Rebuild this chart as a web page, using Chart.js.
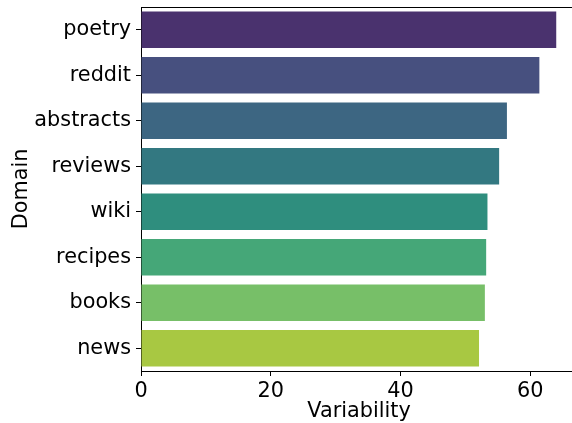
<!DOCTYPE html>
<html>
<head>
<meta charset="utf-8">
<script src="https://cdn.jsdelivr.net/npm/chart.js@4/dist/chart.umd.min.js"></script>
<style>
  html, body { margin: 0; padding: 0; background: #fff; overflow: hidden; }
  #wrap { width: 572px; height: 423px; overflow: hidden; }
</style>
</head>
<body>
<div id="wrap"><canvas id="main" width="577" height="423"></canvas></div>
<script>
const domains = ['poetry', 'reddit', 'abstracts', 'reviews', 'wiki', 'recipes', 'books', 'news'];
const variability = [64.0, 61.4, 56.4, 55.2, 53.4, 53.2, 53.0, 52.1];
const xTicks = [0, 20, 40, 60];
const xMax = 67.2;

// viridis(8), desaturated like seaborn does
const colors = ['#4a326e', '#47507f', '#3d6682', '#337881', '#2f8e7e', '#45a778', '#77bf68', '#a8c842'];

const FONT = { family: 'DejaVu Sans', size: 20.8 };

// matplotlib keeps a top spine, chart.js does not
const topSpine = {
  id: 'topSpine',
  afterDraw(chart) {
    const { ctx, chartArea } = chart;
    ctx.save();
    ctx.strokeStyle = '#000';
    ctx.lineWidth = 1;
    ctx.beginPath();
    ctx.moveTo(chartArea.left, chartArea.top + 0.5);
    ctx.lineTo(chartArea.right, chartArea.top + 0.5);
    ctx.stroke();
    ctx.restore();
  }
};

new Chart(document.getElementById('main'), {
  type: 'bar',
  data: {
    labels: domains,
    datasets: [{
      data: variability,
      backgroundColor: colors,
      borderWidth: 0,
      barPercentage: 0.8,
      categoryPercentage: 1.0,
    }]
  },
  options: {
    indexAxis: 'y',
    responsive: false,
    animation: false,
    devicePixelRatio: 1,
    layout: { padding: { top: 7, left: 0, right: 0, bottom: 0 } },
    plugins: { legend: { display: false }, tooltip: { enabled: false } },
    scales: {
      x: {
        min: 0,
        max: xMax,
        afterBuildTicks: scale => { scale.ticks = xTicks.map(v => ({ value: v })); },
        afterFit: scale => { scale.height = 52; scale.paddingLeft = 0; scale.paddingRight = 0; },
        grid: { drawOnChartArea: false, drawTicks: true, tickLength: 5, color: '#000' },
        border: { display: true, color: '#000', width: 1 },
        ticks: { color: '#000', font: FONT, padding: 3, maxRotation: 0 },
        title: { display: true, text: 'Variability', color: '#000', font: FONT, padding: { top: 0, bottom: -1 } }
      },
      y: {
        afterFit: scale => { scale.width = 141; scale.paddingTop = 0; scale.paddingBottom = 0; },
        grid: { offset: false, drawOnChartArea: false, drawTicks: true, tickLength: 5, color: '#000' },
        border: { display: true, color: '#000', width: 1 },
        ticks: { color: '#000', font: FONT, padding: 5 },
        title: { display: true, text: 'Domain', color: '#000', font: FONT, padding: { top: 9, bottom: 0 } }
      }
    }
  },
  plugins: [topSpine]
});
</script>
</body>
</html>
